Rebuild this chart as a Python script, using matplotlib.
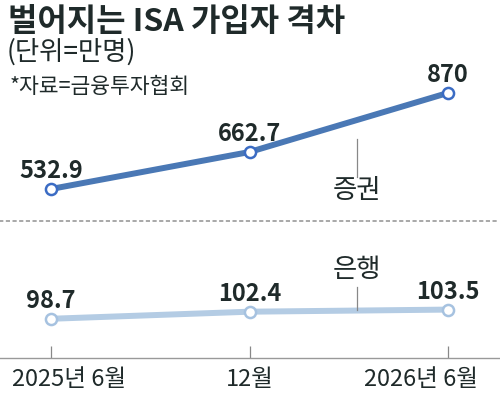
import matplotlib.pyplot as plt

plt.rcParams['font.family'] = ['Noto Sans CJK KR', 'DejaVu Sans']

periods = ['2025년 6월', '12월', '2026년 6월']
securities = [532.9, 662.7, 870]
banks = [98.7, 102.4, 103.5]

W, H = 500, 406
fig = plt.figure(figsize=(W / 100, H / 100), dpi=100)

def px_axes(top, bottom):
    # axes spanning full width between pixel rows top..bottom
    return fig.add_axes([0, 1 - bottom / H, 1, (bottom - top) / H])

dark = '#1f2a2a'
xs = range(len(periods))
xlim = (-0.257, 2.262)

# upper panel: securities
ax1 = px_axes(60, 222)
ax1.set_xlim(*xlim)
ax1.set_ylim(420.6, 989)
ax1.plot(xs, securities, color='#4a78b5', lw=4.3, solid_capstyle='round', zorder=2)
ax1.plot(xs, securities, ls='none', marker='o', ms=8, mfc='white', mec='#3b6cc4', mew=1.8, zorder=3)
for x, v in zip(xs, securities):
    ax1.annotate(f'{v:g}', (x, v), xytext=(0, 5), textcoords='offset points',
                 ha='center', va='bottom', fontsize=17, fontweight='bold', color=dark)
ax1.plot([1.54, 1.54], [575, 708], color='#888888', lw=0.9)
ax1.text(1.54, 532, '증권', ha='center', va='center', fontsize=19, color=dark)
ax1.axis('off')

# lower panel: banks
ax2 = px_axes(222, 359)
ax2.set_xlim(*xlim)
ax2.set_ylim(78.2, 149.8)
ax2.plot(xs, banks, color='#b4cce4', lw=4.3, solid_capstyle='round', zorder=2)
ax2.plot(xs, banks, ls='none', marker='o', ms=8, mfc='white', mec='#a6c2e0', mew=1.8, zorder=3)
for x, v in zip(xs, banks):
    ax2.annotate(f'{v:g}', (x, v), xytext=(0, 5), textcoords='offset points',
                 ha='center', va='bottom', fontsize=17, fontweight='bold', color=dark)
ax2.plot([1.54, 1.54], [103.3, 115.5], color='#888888', lw=0.9)
ax2.text(1.54, 125, '은행', ha='center', va='center', fontsize=19, color=dark)
for s in ['left', 'right']:
    ax2.spines[s].set_visible(False)
ax2.spines['bottom'].set_color('#999999')
ax2.spines['bottom'].set_linewidth(1.0)
ax2.spines['top'].set_linestyle((0, (1.5, 2.5)))
ax2.spines['top'].set_color('#999999')
ax2.spines['top'].set_linewidth(1.2)
ax2.set_yticks([])
ax2.set_xticks(list(xs))
ax2.set_xticklabels([])
ax2.tick_params(axis='x', direction='in', length=9, width=0.9, color='#888888')
ax2.patch.set_alpha(0)

# period labels, end ones pulled inward to stay inside the frame
label_ha = ['left', 'center', 'right']
label_dx = [-28, 0, 21.5]
for x, lab, ha, dx in zip(xs, periods, label_ha, label_dx):
    ax2.annotate(lab, (x, 0), xycoords=('data', 'axes fraction'), xytext=(dx, -15),
                 textcoords='offset points', ha=ha, va='center', fontsize=17, color=dark)

fig.text(0.016, 1 - 22 / H, '벌어지는 ISA 가입자 격차', ha='left', va='center',
         fontsize=23, fontweight='bold', color=dark)
fig.text(0.014, 1 - 52 / H, '(단위=만명)', ha='left', va='center', fontsize=19, color=dark)
fig.text(0.02, 1 - 87 / H, '*자료=금융투자협회', ha='left', va='center', fontsize=15.5, color=dark)

fig.savefig('out.png', dpi=100)
